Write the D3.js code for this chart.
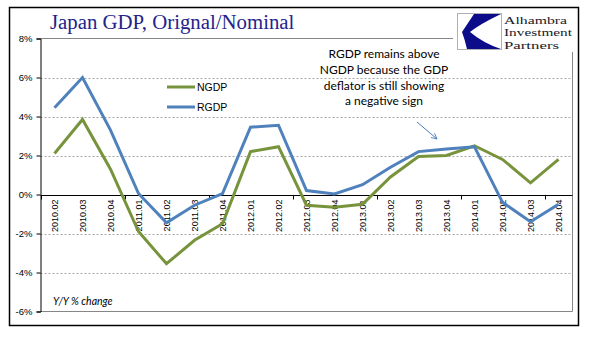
<!DOCTYPE html>
<html>
<head>
<meta charset="utf-8">
<script src="https://cdn.jsdelivr.net/npm/d3@7"></script>
<style>
  html, body { margin: 0; padding: 0; background: #fff; }
  svg { display: block; }
</style>
</head>
<body>
<svg id="chart" width="594" height="341"></svg>
<script>
// quarterly year-over-year growth, Japan GDP
const quarters = ['2010.02', '2010.03', '2010.04', '2011.01', '2011.02', '2011.03', '2011.04',
  '2012.01', '2012.02', '2012.03', '2012.04', '2013.01', '2013.02', '2013.03', '2013.04',
  '2014.01', '2014.02', '2014.03', '2014.04'];
const ngdp = [2.1, 3.85, 1.3, -1.9, -3.55, -2.35, -1.5, 2.2, 2.45, -0.55, -0.65, -0.5, 0.9,
  1.95, 2.0, 2.5, 1.8, 0.6, 1.8];
const rgdp = [4.45, 6.0, 3.3, 0.05, -1.45, -0.55, 0.05, 3.45, 3.55, 0.2, 0.03, 0.5, 1.4,
  2.2, 2.33, 2.45, -0.4, -1.4, -0.5];
const yTicks = [-6, -4, -2, 0, 2, 4, 6, 8];
const seriesNames = ['NGDP', 'RGDP'];
const seriesColors = ['#77933C', '#4F81BD'];

const svg = d3.select('#chart');

// outer frame
svg.append('rect')
  .attr('x', 9.5).attr('y', 7.5)
  .attr('width', 569).attr('height', 318)
  .attr('fill', '#fff').attr('stroke', '#000').attr('stroke-width', 1.5);

const plot = { left: 40.5, right: 572.5, top: 38.5, bottom: 311.5 };

const x = d3.scaleBand()
  .domain(quarters)
  .range([plot.left, plot.right]);

const y = d3.scaleLinear()
  .domain([-6, 8])
  .range([plot.bottom, plot.top]);

const cx = d => x(d) + x.bandwidth() / 2;

// gridlines
svg.append('g')
  .selectAll('line')
  .data(yTicks.filter(t => t !== 0 && t !== 8 && t !== -6))
  .join('line')
  .attr('x1', plot.left).attr('x2', plot.right)
  .attr('y1', d => Math.round(y(d)) + 0.5).attr('y2', d => Math.round(y(d)) + 0.5)
  .attr('stroke', '#a6a6a6').attr('stroke-dasharray', '2,2');

// plot area border (top, right, bottom)
svg.append('path')
  .attr('d', `M${plot.left},${plot.top}H${plot.right}V${plot.bottom}H${plot.left}`)
  .attr('fill', 'none').attr('stroke', '#868686').attr('stroke-width', 1);

// y axis
const yAxis = svg.append('g')
  .attr('transform', `translate(${plot.left},0)`)
  .call(d3.axisLeft(y).tickValues(yTicks).tickSize(4).tickPadding(4)
    .tickFormat(d => d + '%'));
yAxis.select('.domain').attr('stroke', '#000');
yAxis.selectAll('.tick line').attr('stroke', '#000');
yAxis.selectAll('.tick text')
  .attr('font-family', 'Liberation Sans, Arial, sans-serif')
  .attr('font-size', 9.5).attr('fill', '#000');

// x axis on the zero line, ticks every third quarter
const zeroY = Math.round(y(0)) + 0.5;
svg.append('line')
  .attr('x1', plot.left).attr('x2', plot.right)
  .attr('y1', zeroY).attr('y2', zeroY)
  .attr('stroke', '#000').attr('stroke-width', 1.2);

svg.append('g')
  .selectAll('line')
  .data(quarters.filter((q, i) => i % 3 === 0))
  .join('line')
  .attr('x1', d => Math.round(x(d)) + 0.5).attr('x2', d => Math.round(x(d)) + 0.5)
  .attr('y1', zeroY).attr('y2', zeroY + 4)
  .attr('stroke', '#000');

svg.append('g')
  .selectAll('text')
  .data(quarters)
  .join('text')
  .attr('transform', d => `translate(${cx(d) + 3.5},${zeroY + 4}) rotate(-90)`)
  .attr('text-anchor', 'end')
  .attr('font-family', 'Liberation Sans, Arial, sans-serif')
  .attr('font-size', 9)
  .attr('fill', '#000')
  .text(d => d);

// series lines
const line = d3.line()
  .x((d, i) => cx(quarters[i]))
  .y(d => y(d));

[ngdp, rgdp].forEach((values, k) => {
  svg.append('path')
    .datum(values)
    .attr('d', line)
    .attr('fill', 'none')
    .attr('stroke', seriesColors[k])
    .attr('stroke-width', 3)
    .attr('stroke-linejoin', 'miter');
});

// legend
const legend = svg.append('g');
seriesNames.forEach((name, k) => {
  const ly = 87 + k * 20;
  legend.append('line')
    .attr('x1', 167).attr('x2', 195)
    .attr('y1', ly).attr('y2', ly)
    .attr('stroke', seriesColors[k]).attr('stroke-width', 3);
  legend.append('text')
    .attr('x', 197).attr('y', ly + 4)
    .attr('font-family', 'Liberation Sans, Arial, sans-serif')
    .attr('font-size', 10.5)
    .text(name);
});

// annotation
const note = ['RGDP remains above', 'NGDP because the GDP', 'deflator is still showing', 'a negative sign'];
svg.append('g')
  .selectAll('text')
  .data(note)
  .join('text')
  .attr('x', 384)
  .attr('y', (d, i) => 58 + i * 15.8)
  .attr('text-anchor', 'middle')
  .attr('font-family', 'Lato, Carlito, sans-serif')
  .attr('font-size', 12)
  .attr('fill', '#000')
  .text(d => d);

svg.append('defs').append('marker')
  .attr('id', 'arrow')
  .attr('viewBox', '0 0 10 10')
  .attr('refX', 9).attr('refY', 5)
  .attr('markerWidth', 7).attr('markerHeight', 7)
  .attr('orient', 'auto')
  .append('path')
  .attr('d', 'M1,1L9,5L1,9')
  .attr('fill', 'none').attr('stroke', '#4a7ebb').attr('stroke-width', 1.2);

svg.append('line')
  .attr('x1', 417).attr('y1', 122)
  .attr('x2', 437).attr('y2', 139)
  .attr('stroke', '#4a7ebb').attr('stroke-width', 1)
  .attr('marker-end', 'url(#arrow)');

// axis caption
svg.append('text')
  .attr('x', 53).attr('y', 305)
  .attr('font-family', 'Lato, Carlito, sans-serif')
  .attr('font-style', 'italic')
  .attr('font-size', 10.5)
  .text('Y/Y % change');

// title
svg.append('text')
  .attr('x', 50).attr('y', 29)
  .attr('font-family', 'Liberation Serif, Times New Roman, serif')
  .attr('font-size', 20.8)
  .attr('fill', '#23238c')
  .text('Japan GDP, Orignal/Nominal');

// logo block
const logo = svg.append('g');
logo.append('rect')
  .attr('x', 453).attr('y', 9)
  .attr('width', 124).attr('height', 43)
  .attr('fill', '#fff');
logo.append('rect')
  .attr('x', 457.5).attr('y', 13.5)
  .attr('width', 44).attr('height', 36)
  .attr('fill', '#fff').attr('stroke', '#b0b0b0').attr('stroke-width', 1);
logo.append('path')
  .attr('d', 'M474,14 L501,14 Q480,24 470,32 Q483,43 501,49 L467,49 Q465,40 462,32 Z')
  .attr('fill', '#0c0c8a');
const logoLines = [['Alhambra', 63], ['Investment', 68], ['Partners', 55]];
logoLines.forEach(([t, w], i) => {
  logo.append('text')
    .attr('x', 504).attr('y', 24 + i * 12.3)
    .attr('font-family', 'Liberation Serif, Times New Roman, serif')
    .attr('font-size', 11)
    .attr('textLength', w)
    .attr('lengthAdjust', 'spacingAndGlyphs')
    .attr('fill', '#1a1a2a')
    .text(t);
});
</script>
</body>
</html>
